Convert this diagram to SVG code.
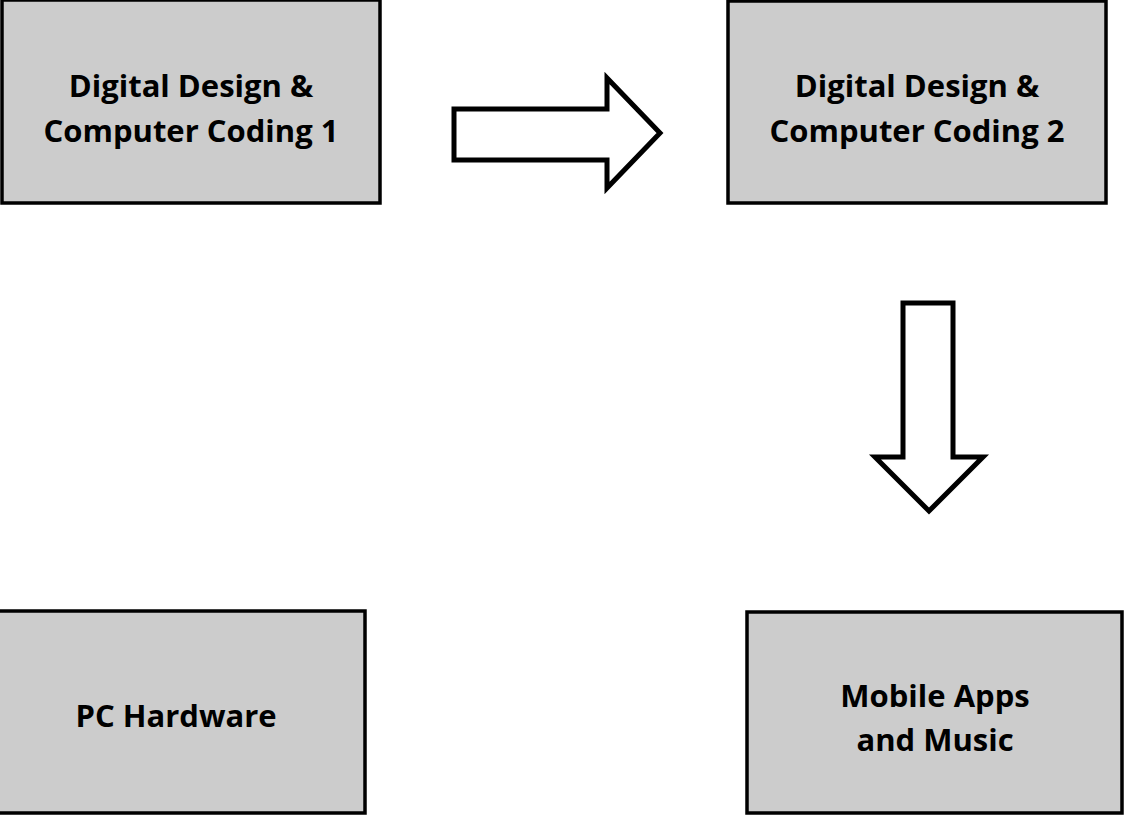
<svg xmlns="http://www.w3.org/2000/svg" width="1124" height="816" viewBox="0 0 1124 816">
<style>
.box{fill:#cccccc;stroke:#000;stroke-width:3.5}
.lbl{font-family:"Open Sans","Liberation Sans",sans-serif;font-weight:bold;font-size:31px;fill:#000;text-anchor:middle}
.arr{fill:#fff;stroke:#000;stroke-width:5;stroke-linejoin:miter}
</style>
<rect width="1124" height="816" fill="#fff"/>
<g id="node-ddcc1">
<rect class="box" x="2" y="0" width="378" height="203"/>
<text class="lbl" x="191" y="97">Digital Design &amp;</text>
<text class="lbl" x="191" y="142">Computer Coding 1</text>
</g>
<g id="node-ddcc2">
<rect class="box" x="728" y="1" width="378" height="202"/>
<text class="lbl" x="917" y="97">Digital Design &amp;</text>
<text class="lbl" x="917" y="142">Computer Coding 2</text>
</g>
<g id="node-pc">
<rect class="box" x="-2" y="611" width="367" height="202"/>
<text class="lbl" x="176" y="727">PC Hardware</text>
</g>
<g id="node-mobile">
<rect class="box" x="747" y="612" width="375" height="201"/>
<text class="lbl" x="935" y="707">Mobile Apps</text>
<text class="lbl" x="935" y="751">and Music</text>
</g>
<g id="connectors">
<polygon class="arr" points="454,109 607,109 607,78 660,133 607,188 607,160 454,160"/>
<polygon class="arr" points="903,303 953,303 953,457 983,457 929,511 875,457 903,457"/>
</g>
</svg>
